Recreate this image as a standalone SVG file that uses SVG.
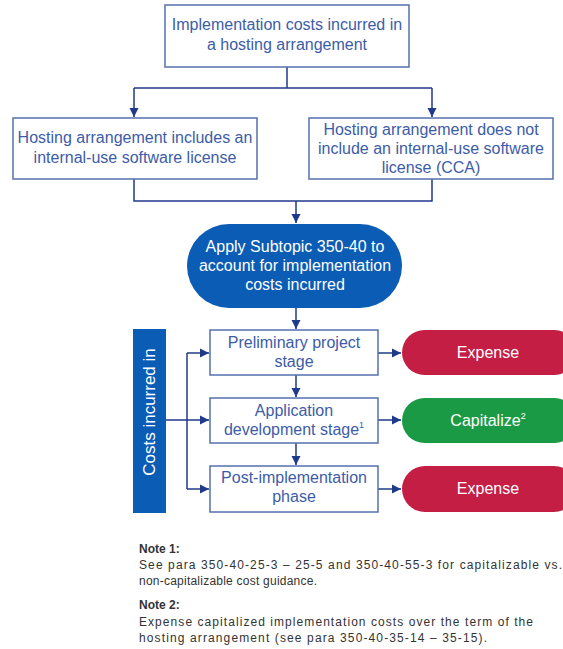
<svg xmlns="http://www.w3.org/2000/svg" width="563" height="649" viewBox="0 0 563 649">
<style>
.box{fill:#fff;stroke:#5670b0;stroke-width:1.5}
.bt{font-family:"Liberation Sans",Arial,sans-serif;font-size:16px;fill:#3d5ca8;text-anchor:middle}
.wt{font-family:"Liberation Sans",Arial,sans-serif;font-size:16px;fill:#fff;text-anchor:middle}
.con{fill:none;stroke:#1f3a8a;stroke-width:1.5}
.nt{font-family:"Liberation Sans",Arial,sans-serif;font-size:12px;fill:#333}
.nb{font-family:"Liberation Sans",Arial,sans-serif;font-size:12px;font-weight:bold;fill:#333}
</style>
<defs>
<marker id="ah" markerUnits="userSpaceOnUse" markerWidth="10" markerHeight="10" viewBox="0 0 10 10" refX="9" refY="5" orient="auto">
<path d="M0,0.5 L9,5 L0,9.5 Z" fill="#1f3a8a"/>
</marker>
</defs>
<rect width="563" height="649" fill="#fff"/>
<g id="connectors">
<path class="con" d="M287,67 V88 M134,88 H432"/>
<path class="con" d="M134,88 V117" marker-end="url(#ah)"/>
<path class="con" d="M432,88 V117" marker-end="url(#ah)"/>
<path class="con" d="M134,179 V201 H432 V179"/>
<path class="con" d="M296,201 V223" marker-end="url(#ah)"/>
<path class="con" d="M296,308 V329" marker-end="url(#ah)"/>
<path class="con" d="M296,375 V397" marker-end="url(#ah)"/>
<path class="con" d="M296,443 V465" marker-end="url(#ah)"/>
<path class="con" d="M166,420 H187 M187,353 V489"/>
<path class="con" d="M187,353 H209" marker-end="url(#ah)"/>
<path class="con" d="M187,420 H209" marker-end="url(#ah)"/>
<path class="con" d="M187,489 H209" marker-end="url(#ah)"/>
<path class="con" d="M378,353 H401" marker-end="url(#ah)"/>
<path class="con" d="M378,420 H401" marker-end="url(#ah)"/>
<path class="con" d="M378,489 H401" marker-end="url(#ah)"/>
</g>
<g id="top">
<rect class="box" x="165" y="5" width="244" height="62"/>
<text class="bt" x="287" y="30">Implementation costs incurred in</text>
<text class="bt" x="287" y="50">a hosting arrangement</text>
</g>
<g id="includes">
<rect class="box" x="13" y="118" width="244" height="61"/>
<text class="bt" x="135" y="143">Hosting arrangement includes an</text>
<text class="bt" x="135" y="163">internal-use software license</text>
</g>
<g id="notincludes">
<rect class="box" x="309" y="118" width="244" height="61"/>
<text class="bt" x="431" y="135">Hosting arrangement does not</text>
<text class="bt" x="431" y="154">include an internal-use software</text>
<text class="bt" x="431" y="173">license (CCA)</text>
</g>
<g id="apply">
<rect x="187" y="224" width="215" height="84" rx="42" fill="#0b5cb5"/>
<text class="wt" x="295" y="252">Apply Subtopic 350-40 to</text>
<text class="wt" x="295" y="271">account for implementation</text>
<text class="wt" x="295" y="290">costs incurred</text>
</g>
<g id="costs">
<rect x="133" y="329" width="33" height="184" fill="#0b5cb5"/>
<text class="wt" transform="translate(155,412) rotate(-90)" x="0" y="0" style="font-size:17px">Costs incurred in</text>
</g>
<g id="prelim">
<rect class="box" x="210" y="330" width="168" height="45"/>
<text class="bt" x="294" y="348">Preliminary project</text>
<text class="bt" x="294" y="367">stage</text>
</g>
<g id="appdev">
<rect class="box" x="210" y="398" width="168" height="45"/>
<text class="bt" x="294" y="416">Application</text>
<text class="bt" x="294" y="435">development stage<tspan font-size="9" dy="-7">1</tspan></text>
</g>
<g id="post">
<rect class="box" x="210" y="466" width="168" height="46"/>
<text class="bt" x="294" y="483">Post-implementation</text>
<text class="bt" x="294" y="502">phase</text>
</g>
<g id="expense1">
<rect x="402" y="330" width="175" height="45" rx="22.5" fill="#c41e45"/>
<text class="wt" x="488" y="358">Expense</text>
</g>
<g id="capitalize">
<rect x="402" y="398" width="175" height="45" rx="22.5" fill="#1b9a45"/>
<text class="wt" x="488" y="426">Capitalize<tspan font-size="9" dy="-7">2</tspan></text>
</g>
<g id="expense2">
<rect x="402" y="466" width="175" height="46" rx="23" fill="#c41e45"/>
<text class="wt" x="488" y="494">Expense</text>
</g>
<g id="notes">
<text class="nb" x="139" y="553">Note 1:</text>
<text class="nt" x="139" y="569" textLength="423" lengthAdjust="spacing">See para 350-40-25-3 – 25-5 and 350-40-55-3 for capitalizable vs.</text>
<text class="nt" x="139" y="585" textLength="178" lengthAdjust="spacing">non-capitalizable cost guidance.</text>
<text class="nb" x="139" y="609">Note 2:</text>
<text class="nt" x="139" y="626" textLength="394" lengthAdjust="spacing">Expense capitalized implementation costs over the term of the</text>
<text class="nt" x="139" y="642" textLength="348" lengthAdjust="spacing">hosting arrangement (see para 350-40-35-14 – 35-15).</text>
</g>
</svg>
